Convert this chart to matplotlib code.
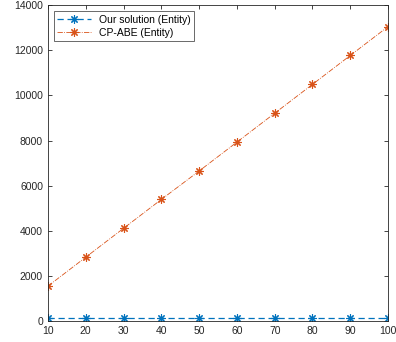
import numpy as np
import matplotlib
matplotlib.use('Agg')
from matplotlib import pyplot as plt

x = [10, 20, 30, 40, 50, 60, 70, 80, 90, 100]
ours = [130, 130, 130, 130, 130, 130, 130, 130, 130, 130]
cpabe = [1550, 2830, 4110, 5390, 6650, 7930, 9210, 10490, 11770, 13050]

plt.rcParams['font.family'] = 'Liberation Sans'
plt.rcParams['font.size'] = 7.5

fig = plt.figure(figsize=(3.96, 3.42), dpi=100)
ax = fig.add_axes([0.121, 0.061, 0.859, 0.924])

star = (8, 2, 0)  # matlab style asterisk (plus + cross)
ax.plot(x, ours, ls=(0, (5, 3)), marker=star, color='#0072BD', lw=0.9, ms=6, mew=0.8,
        label='Our solution (Entity)')
ax.plot(x, cpabe, ls='-.', marker=star, color='#D95319', lw=0.6, ms=6, mew=0.8,
        label='CP-ABE (Entity)')

ax.set_xlim(10, 100)
ax.set_ylim(0, 14000)
ax.set_xticks(x)
ax.set_yticks(np.arange(0, 14001, 2000))
ax.tick_params(direction='in', top=True, right=True, length=3, width=0.6, colors='#262626', labelcolor='#262626')
for s in ax.spines.values():
    s.set_linewidth(0.6)
    s.set_color('#262626')

leg = ax.legend(loc='upper left', fontsize=7.5, fancybox=False, edgecolor='#262626',
                borderaxespad=0.6, handlelength=3.2, borderpad=0.3, labelspacing=0.3)
leg.get_frame().set_linewidth(0.6)

plt.savefig('out.png', dpi=100)
